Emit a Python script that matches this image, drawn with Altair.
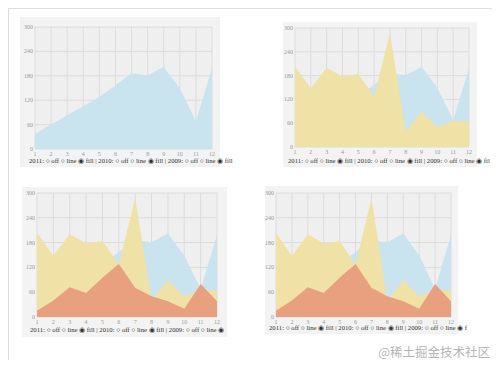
import altair as alt
import pandas as pd

months = list(range(1, 13))
s2011 = [37, 60, 83, 105, 128, 157, 186, 181, 202, 149, 68, 198]
s2010 = [203, 148, 200, 178, 184, 127, 287, 40, 89, 50, 66, 64]
s2009 = [15, 40, 72, 58, 95, 128, 71, 50, 38, 20, 80, 38]
years = ["2011", "2010", "2009"]
colors = ["#c9e3ef", "#f0e1a6", "#e8a07e"]
yticks = [0, 60, 120, 180, 240, 300]

legend_full = "2011:  ○ off  ○ line  ◉ fill | 2010:  ○ off  ○ line  ◉ fill | 2009:  ○ off  ○ line  ◉ fill"

df = pd.DataFrame({
    "month": months * 3,
    "value": s2011 + s2010 + s2009,
    "year": ["2011"] * 12 + ["2010"] * 12 + ["2009"] * 12,
})
mdf = pd.DataFrame({"month": months})
ydf = pd.DataFrame({"value": yticks})
one = pd.DataFrame({"a": [0]})

O = 8  # page margin


def panel(n_series, plot, box, legend_text, legend_xy):
    # plot / box: (left, right, top, bottom) in page pixels
    l, r, t, b = [v - O for v in plot]
    bl, br, bt, bb = [v - O for v in box]
    xs = alt.Scale(domain=[1, 12], range=[l, r], nice=False)
    ys = alt.Scale(domain=[0, 300], range=[b, t], nice=False)
    X = alt.X("month:Q", scale=xs, axis=None)
    Y = alt.Y("value:Q", scale=ys, axis=None)
    out = []
    out.append(alt.Chart(one).mark_rect(color="#f3f3f3").encode(
        x=alt.value(bl), x2=alt.value(br), y=alt.value(bt), y2=alt.value(bb)))
    out.append(alt.Chart(one).mark_rect(color="#efefef").encode(
        x=alt.value(l), x2=alt.value(r), y=alt.value(t), y2=alt.value(b)))
    out.append(alt.Chart(mdf).mark_rule(color="#dcdcdc", strokeWidth=1).encode(
        x=X, y=alt.value(t), y2=alt.value(b)))
    out.append(alt.Chart(ydf).mark_rule(color="#dcdcdc", strokeWidth=1).encode(
        y=Y, x=alt.value(l), x2=alt.value(r)))
    for yr, col in list(zip(years, colors))[:n_series]:
        out.append(
            alt.Chart(df).transform_filter(alt.datum.year == yr)
            .mark_area(color=col, opacity=1, interpolate="linear")
            .encode(x=X, y=Y))
    out.append(alt.Chart(mdf).mark_text(
        fontSize=6, font="Liberation Serif", color="#9a9a9a", baseline="top").encode(
        x=X, y=alt.value(b + 2), text="month:Q"))
    out.append(alt.Chart(ydf).mark_text(
        fontSize=6, font="Liberation Serif", color="#9a9a9a", align="right",
        baseline="middle").encode(
        y=Y, x=alt.value(l - 2), text="value:Q"))
    out.append(alt.Chart(one).mark_text(
        align="left", baseline="middle", fontSize=6.7, font="Liberation Serif",
        color="#333333", text=legend_text).encode(
        x=alt.value(legend_xy[0] - O), y=alt.value(legend_xy[1] - O)))
    return out


layers = []
layers += panel(1, (35, 212, 27, 149), (20, 220, 17, 167), legend_full, (29, 161))
layers += panel(2, (295, 469, 28, 147), (283, 477, 22, 167), legend_full[:-1], (288, 161))
layers += panel(3, (37, 217, 193, 317), (22, 227, 187, 337), legend_full[:-5], (30, 330))
layers += panel(3, (276, 451, 193, 317), (265, 458, 186, 334), legend_full[:-3], (269, 328))

layers.append(alt.Chart(one).mark_text(
    align="right", baseline="alphabetic", fontSize=12.5, font="Noto Sans CJK SC",
    color="#b5b5b5", text="@稀土掘金技术社区").encode(
    x=alt.value(490 - O), y=alt.value(357 - O)))

chart = alt.layer(*layers).resolve_scale(
    x="independent", y="independent"
).properties(
    width=484, height=352, autosize=alt.AutoSizeParams(type="none"), padding=0
).configure_view(stroke=None).configure(background="white")

chart.save("out.html", embed_options={"renderer": "svg", "actions": False})
